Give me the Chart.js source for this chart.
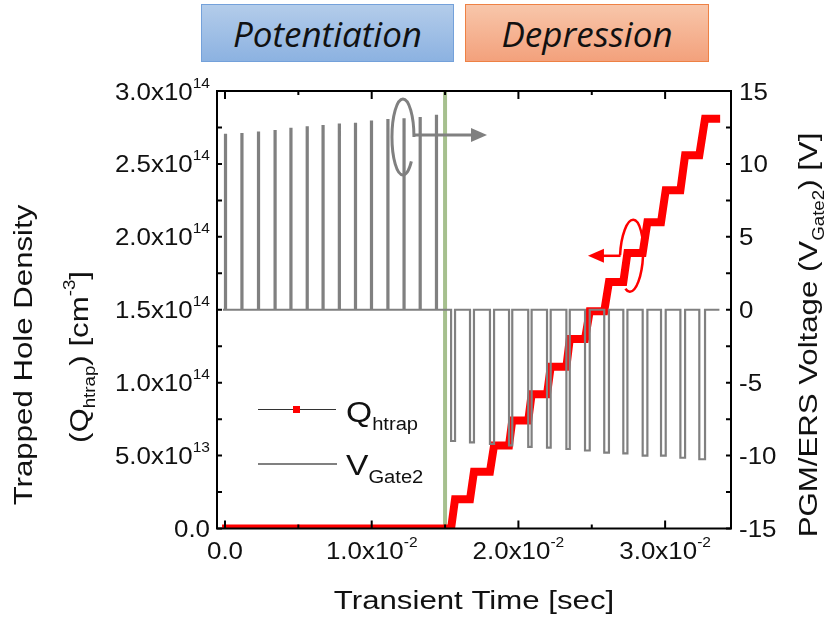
<!DOCTYPE html>
<html lang="en">
<head>
<meta charset="UTF-8">
<title>Trapped hole density and gate voltage vs. transient time</title>
<script src="https://cdn.jsdelivr.net/npm/chart.js@4.4.1/dist/chart.umd.min.js"></script>
<style>
  body { margin: 0; background: #fff; }
  .wrap { position: relative; width: 829px; height: 624px; }
  .phase {
    position: absolute; top: 4px; height: 58px; box-sizing: border-box;
    display: flex; align-items: center; justify-content: center;
    font-family: "Open Sans", "Noto Sans", sans-serif; font-style: italic;
    font-size: 35px; color: #111;
  }
  #pot { left: 201px; width: 253px; background: linear-gradient(#b3ccea, #8cb2e1); border: 1px solid #74a1da; }
  #dep { left: 465px; width: 244px; background: linear-gradient(#f8c6aa, #f3a17c); border: 1px solid #ee8144; }
</style>
</head>
<body>
<div class="wrap">
  <canvas id="myChart" width="829" height="624"></canvas>
  <div class="phase" id="pot">Potentiation</div>
  <div class="phase" id="dep">Depression</div>
</div>
<script>
// program pulses (potentiation): start time [s] and amplitude [V]
const potStart = [0.0000, 0.00112, 0.00225, 0.00338, 0.00446, 0.00557, 0.00665,
                  0.00776, 0.00886, 0.00995, 0.01107, 0.01217, 0.01327, 0.01438];
const potVolt = [12.0, 12.05, 12.15, 12.25, 12.4, 12.5, 12.6, 12.7, 12.75, 12.9, 13.0, 13.05, 13.15, 13.3];
const potWidth = 0.00007;

// erase pulses (depression): start / end time [s] and amplitude [V]
const depStart = [0.01541, 0.01670, 0.01806, 0.01936, 0.02067, 0.02195, 0.02327,
                  0.02454, 0.02585, 0.02715, 0.02847, 0.02972, 0.03104, 0.03233];
const depEnd = [0.01568, 0.01697, 0.01834, 0.01958, 0.02090, 0.02220, 0.02350,
                0.02486, 0.02617, 0.02743, 0.02879, 0.03004, 0.03136, 0.03272];
const depVolt = [-9.0, -9.1, -9.2, -9.3, -9.4, -9.45, -9.55, -9.65, -9.8, -9.85, -10.0, -10.0, -10.15, -10.25];

const gateStart = -0.00014;
const gateEnd = 0.0337;

// trapped hole density level before the first and after each erase pulse [cm^-3]
const qLevel = [0, 2.0e13, 3.9e13, 5.7e13, 7.4e13, 9.2e13, 1.11e14, 1.30e14,
                1.49e14, 1.69e14, 1.89e14, 2.10e14, 2.32e14, 2.56e14, 2.81e14];
const qStart = -0.0002;
const qEnd = 0.03375;

const switchTime = 0.015;

// axis ticks
const timeTicks = [0, 0.01, 0.02, 0.03];
const timeTickLabels = ['0.0', '1.0x10^{-2}', '2.0x10^{-2}', '3.0x10^{-2}'];
const timeMinor = [0.005, 0.015, 0.025];
const qTicks = [0, 5e13, 1e14, 1.5e14, 2e14, 2.5e14, 3e14];
const qTickLabels = ['0.0', '5.0x10^{13}', '1.0x10^{14}', '1.5x10^{14}', '2.0x10^{14}', '2.5x10^{14}', '3.0x10^{14}'];
const qMinor = [2.5e13, 7.5e13, 1.25e14, 1.75e14, 2.25e14, 2.75e14];
const vTicks = [-15, -10, -5, 0, 5, 10, 15];
const vTickLabels = ['-15', '-10', '-5', '0', '5', '10', '15'];
const vMinor = [-12.5, -7.5, -2.5, 2.5, 7.5, 12.5];

// build the square wave for V_Gate2
const gatePts = [{ x: gateStart, y: 0 }];
potStart.forEach((t, i) => {
  gatePts.push({ x: t, y: 0 }, { x: t, y: potVolt[i] }, { x: t + potWidth, y: potVolt[i] }, { x: t + potWidth, y: 0 });
});
depStart.forEach((t, i) => {
  gatePts.push({ x: t, y: 0 }, { x: t, y: depVolt[i] }, { x: depEnd[i], y: depVolt[i] }, { x: depEnd[i], y: 0 });
});
gatePts.push({ x: gateEnd, y: 0 });

// staircase for Q_htrap, one step per erase pulse
const qPts = [{ x: qStart, y: qLevel[0] }];
depStart.forEach((t, i) => {
  qPts.push({ x: t, y: qLevel[i] }, { x: depEnd[i], y: qLevel[i + 1] });
});
qPts.push({ x: qEnd, y: qLevel[qLevel.length - 1] });

const FONT = '"Liberation Sans", Arial, sans-serif';

function parseRich(str) {
  const segs = [];
  const re = /([_^])\{([^}]*)\}|([^_^]+)/g;
  let m;
  while ((m = re.exec(str)) !== null) {
    if (m[1]) segs.push({ t: m[2], k: m[1] === '^' ? 1 : -1 });
    else segs.push({ t: m[3], k: 0 });
  }
  return segs;
}

// text with super/subscripts, y is the baseline
function drawRich(ctx, str, x, y, o) {
  const segs = parseRich(str);
  const small = o.size * 0.6;
  let w = 0;
  segs.forEach(s => {
    ctx.font = (s.k ? small : o.size) + 'px ' + FONT;
    s.w = ctx.measureText(s.t).width;
    w += s.w;
  });
  ctx.save();
  ctx.translate(x, y);
  if (o.rotate) ctx.rotate(o.rotate);
  ctx.scale(o.stretch || 1, 1);
  ctx.fillStyle = o.color || '#111';
  ctx.textAlign = 'left';
  ctx.textBaseline = 'alphabetic';
  let cx = o.align === 'right' ? -w : o.align === 'center' ? -w / 2 : 0;
  segs.forEach(s => {
    ctx.font = (s.k ? small : o.size) + 'px ' + FONT;
    const dy = s.k === 1 ? -o.size * (o.sup || 0.45) : s.k === -1 ? o.size * (o.sub || 0.28) : 0;
    ctx.fillText(s.t, cx, dy);
    cx += s.w;
  });
  ctx.restore();
}

function arrowHead(ctx, tipX, tipY, dir, len, half) {
  ctx.beginPath();
  ctx.moveTo(tipX, tipY);
  ctx.lineTo(tipX - dir * len, tipY - half);
  ctx.lineTo(tipX - dir * len, tipY + half);
  ctx.closePath();
  ctx.fill();
}

const overlay = {
  id: 'overlay',
  afterDatasetsDraw(chart) {
    const { ctx, chartArea: a } = chart;
    const { x, y, y1 } = chart.scales;
    ctx.save();

    // axis frame
    ctx.strokeStyle = '#000';
    ctx.lineWidth = 2;
    ctx.strokeRect(a.left, a.top, a.right - a.left, a.bottom - a.top);

    // inward ticks
    ctx.beginPath();
    const tX = (v, len) => {
      const p = x.getPixelForValue(v);
      ctx.moveTo(p, a.bottom); ctx.lineTo(p, a.bottom - len);
      ctx.moveTo(p, a.top); ctx.lineTo(p, a.top + len);
    };
    timeTicks.forEach(v => tX(v, 8));
    timeMinor.forEach(v => tX(v, 4));
    qTicks.concat(qMinor).forEach(v => {
      const p = y.getPixelForValue(v);
      ctx.moveTo(a.left, p); ctx.lineTo(a.left + 5, p);
    });
    vTicks.concat(vMinor).forEach(v => {
      const p = y1.getPixelForValue(v);
      ctx.moveTo(a.right, p); ctx.lineTo(a.right - 5, p);
    });
    ctx.stroke();

    // gray loop + arrow pointing to the right axis
    ctx.strokeStyle = '#808080';
    ctx.fillStyle = '#808080';
    ctx.lineWidth = 3;
    const gx = x.getPixelForValue(0.01213), gy = y1.getPixelForValue(11.85);
    const gTip = x.getPixelForValue(0.01786), gArrowY = y1.getPixelForValue(11.98);
    ctx.beginPath();
    ctx.ellipse(gx, gy, 11, 38, 0, 0, 0.7, true);
    ctx.stroke();
    ctx.beginPath();
    ctx.moveTo(gx + 11, gArrowY);
    ctx.lineTo(gTip - 12, gArrowY);
    ctx.stroke();
    arrowHead(ctx, gTip, gArrowY, 1, 16, 7);

    // red loop + arrow pointing to the left axis
    ctx.strokeStyle = '#ff0000';
    ctx.fillStyle = '#ff0000';
    ctx.lineWidth = 2.5;
    const rx = x.getPixelForValue(0.02771), ry = y.getPixelForValue(1.87e14);
    const rTip = x.getPixelForValue(0.02474);
    ctx.beginPath();
    ctx.ellipse(rx, ry, 11.5, 36, 0.05, Math.PI, Math.PI * 2.5 + 0.4, false);
    ctx.stroke();
    ctx.beginPath();
    ctx.moveTo(rx - 11, ry);
    ctx.lineTo(rTip + 12, ry);
    ctx.stroke();
    arrowHead(ctx, rTip, ry, -1, 16, 7);

    // legend
    ctx.lineWidth = 1.2;
    ctx.strokeStyle = '#333';
    ctx.beginPath();
    ctx.moveTo(258, 409.5); ctx.lineTo(336, 409.5);
    ctx.stroke();
    ctx.fillStyle = '#ff0000';
    ctx.fillRect(293, 406, 7, 7);
    ctx.strokeStyle = '#808080';
    ctx.lineWidth = 2.2;
    ctx.beginPath();
    ctx.moveTo(258, 464); ctx.lineTo(337, 464);
    ctx.stroke();
    drawRich(ctx, 'Q_{htrap}', 346, 421.5, { size: 30, stretch: 1.12 });
    drawRich(ctx, 'V_{Gate2}', 346, 475, { size: 30, stretch: 1.12 });

    ctx.restore();
  },
  afterDraw(chart) {
    const { ctx, chartArea: a } = chart;
    const { x, y, y1 } = chart.scales;
    const tick = { size: 24, stretch: 1.08, sup: 0.5 };
    timeTicks.forEach((v, i) => {
      drawRich(ctx, timeTickLabels[i], x.getPixelForValue(v), 559, Object.assign({ align: 'center' }, tick));
    });
    qTicks.forEach((v, i) => {
      drawRich(ctx, qTickLabels[i], 210, y.getPixelForValue(v) + 8.5, Object.assign({ align: 'right' }, tick));
    });
    vTicks.forEach((v, i) => {
      drawRich(ctx, vTickLabels[i], 739, y1.getPixelForValue(v) + 8.5, Object.assign({ align: 'left' }, tick));
    });

    const title = { size: 26, stretch: 1.2, align: 'center', sup: 0.5 };
    drawRich(ctx, 'Transient Time [sec]', (a.left + a.right) / 2, 609, title);
    drawRich(ctx, 'Trapped Hole Density', 31.5, 355, Object.assign({ rotate: -Math.PI / 2 }, title));
    drawRich(ctx, '(Q_{htrap}) [cm^{-3}]', 88, 357, Object.assign({ rotate: -Math.PI / 2 }, title));
    drawRich(ctx, 'PGM/ERS Voltage (V_{Gate2}) [V]', 817, 335, Object.assign({ rotate: -Math.PI / 2 }, title));
  }
};

const plain = { grid: { display: false }, border: { display: false }, ticks: { display: false } };

new Chart(document.getElementById('myChart').getContext('2d'), {
  type: 'line',
  data: {
    datasets: [
      {
        label: 'V_Gate2',
        data: gatePts,
        yAxisID: 'y1',
        borderColor: '#808080',
        borderWidth: 2.2,
        borderJoinStyle: 'miter',
        pointRadius: 0,
        order: 0
      },
      {
        label: 'Q_htrap',
        data: qPts,
        yAxisID: 'y',
        borderColor: '#ff0000',
        borderWidth: 8,
        borderJoinStyle: 'miter',
        pointRadius: 0,
        order: 1
      },
      {
        label: 'switch',
        data: [{ x: switchTime, y: 0 }, { x: switchTime, y: 3e14 }],
        yAxisID: 'y',
        borderColor: '#a6c08e',
        borderWidth: 4,
        pointRadius: 0,
        order: 2
      }
    ]
  },
  options: {
    responsive: false,
    animation: false,
    layout: { padding: { top: 91, left: 0, right: 0, bottom: 0 } },
    plugins: { legend: { display: false }, tooltip: { enabled: false } },
    scales: {
      x: Object.assign({ type: 'linear', min: -0.000545, max: 0.03449, afterFit: s => { s.height = 95.5; } }, plain),
      y: Object.assign({ type: 'linear', position: 'left', min: 0, max: 3e14, afterFit: s => { s.width = 217; } }, plain),
      y1: Object.assign({ type: 'linear', position: 'right', min: -15, max: 15, afterFit: s => { s.width = 98; } }, plain)
    }
  },
  plugins: [overlay]
});
</script>
</body>
</html>
